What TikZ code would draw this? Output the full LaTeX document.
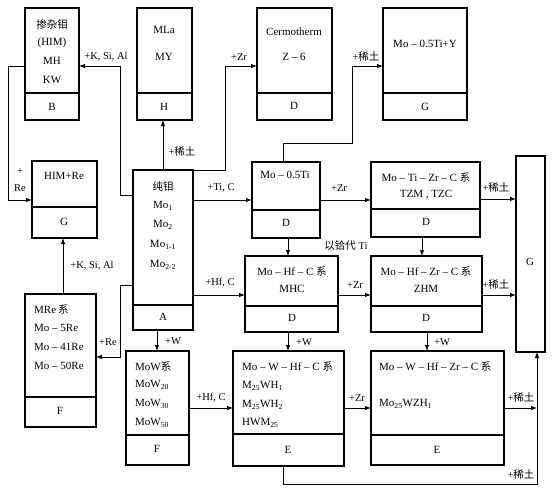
\documentclass[tikz,border=0pt]{standalone}
\usepackage{fontspec}
\setmainfont{Liberation Serif}
\newfontfamily\cjk{Noto Sans CJK SC}
\usetikzlibrary{arrows.meta}
\newcommand\mybox[6]{%
  \node[boxst, minimum width={(#4-#2)*1pt}, minimum height={(#5-#3)*1pt}] (#1) at ({(#2+#4)/2},{(#3+#5)/2}) {};
  \draw[divst] (#2,#6) -- (#4,#6);
  \draw[divst] (#2,#5) -- (#4,#5);
}
\newcommand\zh[1]{{\cjk\fontsize{10.5}{11}\selectfont #1}}
\newcommand\dd{\ –\ }
\begin{document}
\begin{tikzpicture}[x=1pt,y=-1pt,
 boxst/.style={draw, line width=1.1pt, inner sep=0pt, outer sep=0pt},
 divst/.style={line width=1.7pt},
 arr/.style={line width=0.9pt, -{Latex[length=6pt,width=4.5pt]}},
 txt/.style={inner sep=0pt, font=\fontsize{11}{12}\selectfont},
 ltxt/.style={txt, anchor=west},
 lbl/.style={inner sep=0pt, font=\fontsize{10.5}{12}\selectfont},
]
\useasboundingbox[fill=white] (0,0) rectangle (553,492);

% boxes
\mybox{B}{25}{8}{79}{120}{93}
\mybox{H}{137}{8}{192}{120}{93}
\mybox{D1}{257}{8}{332}{120}{93}
\mybox{G1}{383}{8}{467}{120}{93}
\mybox{G2}{32}{161}{97}{238}{207}
\mybox{A}{133}{170}{193}{330}{305}
\mybox{MoTi}{252}{162}{320}{238}{210}
\mybox{TZM}{371}{162}{480}{237}{209}
\node[boxst, minimum width=29pt, minimum height=196pt] (BigG) at (530.5,254) {};
\mybox{MHC}{245}{256}{338}{332}{306}
\mybox{ZHM}{371}{256}{482}{332}{306}
\mybox{MRe}{25}{294}{96}{427}{397}
\mybox{MoW}{126}{351}{189}{465}{435}
\mybox{E1}{233}{351}{344}{466}{434}
\mybox{E2}{371}{351}{504}{465}{435}

% box texts
\node[txt] (tB1) at (52,24) {\zh{掺杂钼}};
\node[txt] (tB2) at (52,43) {(HIM)};
\node[txt] (tB3) at (52,61) {MH};
\node[txt] (tB4) at (52,80) {KW};
\node[txt] (tB5) at (52,107) {B};

\node[txt] (tH1) at (164,30) {MLa};
\node[txt] (tH2) at (164,57) {MY};
\node[txt] (tH3) at (164,107) {H};

\node[txt] (tD11) at (294,32) {Cermotherm};
\node[txt] (tD12) at (294,57) {Z\dd 6};
\node[txt] (tD13) at (294,106) {D};

\node[txt] (tG11) at (425,44) {Mo\dd 0.5Ti+Y};
\node[txt] (tG12) at (425,107) {G};

\node[txt] (tG21) at (64,176) {HIM+Re};
\node[txt] (tG22) at (64,222) {G};

\node[txt] (tA1) at (163,186) {\zh{纯钼}};
\node[txt] (tA2) at (163,206) {Mo\textsubscript{1}};
\node[txt] (tA3) at (163,225) {Mo\textsubscript{2}};
\node[txt] (tA4) at (163,245) {Mo\textsubscript{1-1}};
\node[txt] (tA5) at (163,265) {Mo\textsubscript{2-2}};
\node[txt] (tA6) at (163,317) {A};

\node[txt] (tT1) at (285,175) {Mo\dd 0.5Ti};
\node[txt] (tT2) at (286,223) {D};

\node[txt] (tZ1) at (426,177) {Mo\dd Ti\dd Zr\dd C \zh{系}};
\node[txt] (tZ2) at (426,195) {TZM , TZC};
\node[txt] (tZ3) at (426,222) {D};

\node[txt] (tBG) at (530,262) {G};

\node[txt] (tM1) at (292,271) {Mo\dd Hf\dd C \zh{系}};
\node[txt] (tM2) at (292,289) {MHC};
\node[txt] (tM3) at (292,318) {D};

\node[txt] (tZH1) at (426,271) {Mo\dd Hf\dd Zr\dd C \zh{系}};
\node[txt] (tZH2) at (426,289) {ZHM};
\node[txt] (tZH3) at (426,318) {D};

\node[ltxt] (tR1) at (34,309) {MRe\,\zh{系}};
\node[ltxt] (tR2) at (34,328) {Mo\dd 5Re};
\node[ltxt] (tR3) at (34,347) {Mo\dd 41Re};
\node[ltxt] (tR4) at (34,366) {Mo\dd 50Re};
\node[txt] (tR5) at (60,411) {F};

\node[ltxt] (tW1) at (135,366) {MoW\zh{系}};
\node[ltxt] (tW2) at (135,385) {MoW\textsubscript{20}};
\node[ltxt] (tW3) at (135,404) {MoW\textsubscript{30}};
\node[ltxt] (tW4) at (135,423) {MoW\textsubscript{50}};
\node[txt] (tW5) at (157,449) {F};

\node[ltxt] (tE11) at (242,366) {Mo\dd W\dd Hf\dd C \zh{系}};
\node[ltxt] (tE12) at (242,386) {M\textsubscript{25}WH\textsubscript{1}};
\node[ltxt] (tE13) at (242,405) {M\textsubscript{25}WH\textsubscript{2}};
\node[ltxt] (tE14) at (242,423) {HWM\textsubscript{25}};
\node[txt] (tE15) at (288,450) {E};

\node[ltxt] (tE21) at (379,366) {Mo\dd W\dd Hf\dd Zr\dd C \zh{系}};
\node[ltxt] (tE22) at (379,404) {Mo\textsubscript{25}WZH\textsubscript{1}};
\node[txt] (tE23) at (437,450) {E};

% connectors
\draw[arr] (A.north -| 163,0) -- (H.south -| 163,0);
\node[lbl] (l1) at (182,152) {+\zh{稀土}};

\draw[arr] (A.north east) -- (225,170) -- (225,66) -- (D1.west |- 0,66);
\node[lbl] (l2) at (239,57) {+Zr};

\draw[arr] (A.west |- 0,195) -- (120,195) -- (120,66) -- (B.east |- 0,66);
\node[lbl] (l3) at (106,57) {+K, Si, Al};

\draw[arr] (B.west |- 0,66) -- (8,66) -- (8,200) -- (G2.west |- 0,200);
\node[lbl] (l4a) at (20,172) {+};
\node[lbl] (l4b) at (20,188) {Re};

\draw[arr] (MRe.north -| 63,0) -- (G2.south -| 63,0);
\node[lbl] (l5) at (92,266) {+K, Si, Al};

\draw[arr] (A.west |- 0,285) -- (120,285) -- (120,357) -- (MRe.east |- 0,357);
\node[lbl] (l6) at (108,342) {+Re};

\draw[arr] (A.south -| 157,0) -- (MoW.north -| 157,0);
\node[lbl] (l7) at (173,341) {+W};

\draw[arr] (A.east |- 0,200) -- (MoTi.west |- 0,200);
\node[lbl] (l8) at (221,188) {+Ti, C};

\draw[arr] (A.east |- 0,295) -- (MHC.west |- 0,295);
\node[lbl] (l9) at (220,283) {+Hf, C};

\draw[arr] (MoW.east |- 0,408) -- (E1.west |- 0,408);
\node[lbl] (l10) at (211,398) {+Hf, C};

\draw[arr] (MoTi.north -| 283,0) -- (283,143) -- (352,143) -- (352,66) -- (G1.west |- 0,66);
\node[lbl] (l11) at (366,57) {+\zh{稀土}};

\draw[arr] (MoTi.east |- 0,200) -- (TZM.west |- 0,200);
\node[lbl] (l12) at (339,188) {+Zr};

\draw[arr] (MoTi.south -| 288,0) -- (MHC.north -| 288,0);
\draw[arr] (TZM.south -| 422,0) -- (ZHM.north -| 422,0);
\node[lbl] (l13) at (346,246) {\zh{以铪代} Ti};

\draw[arr] (TZM.east |- 0,199) -- (BigG.west |- 0,199);
\node[lbl] (l14) at (496,188) {+\zh{稀土}};

\draw[arr] (MHC.east |- 0,295) -- (ZHM.west |- 0,295);
\node[lbl] (l15) at (355,285) {+Zr};

\draw[arr] (ZHM.east |- 0,295) -- (BigG.west |- 0,295);
\node[lbl] (l16) at (496,285) {+\zh{稀土}};

\draw[arr] (MHC.south -| 288,0) -- (E1.north -| 288,0);
\node[lbl] (l17) at (304,342) {+W};

\draw[arr] (ZHM.south -| 427,0) -- (E2.north -| 427,0);
\node[lbl] (l18) at (442,342) {+W};

\draw[arr] (E1.east |- 0,408) -- (E2.west |- 0,408);
\node[lbl] (l19) at (357,398) {+Zr};

\draw[arr] (E2.east |- 0,408) -- (537,408);
\node[lbl] (l20) at (521,398) {+\zh{稀土}};

\draw[arr] (E1.south -| 283,0) -- (283,484) -- (537,484) -- (BigG.south -| 537,0);
\node[lbl] (l21) at (521,475) {+\zh{稀土}};
\end{tikzpicture}
\end{document}
